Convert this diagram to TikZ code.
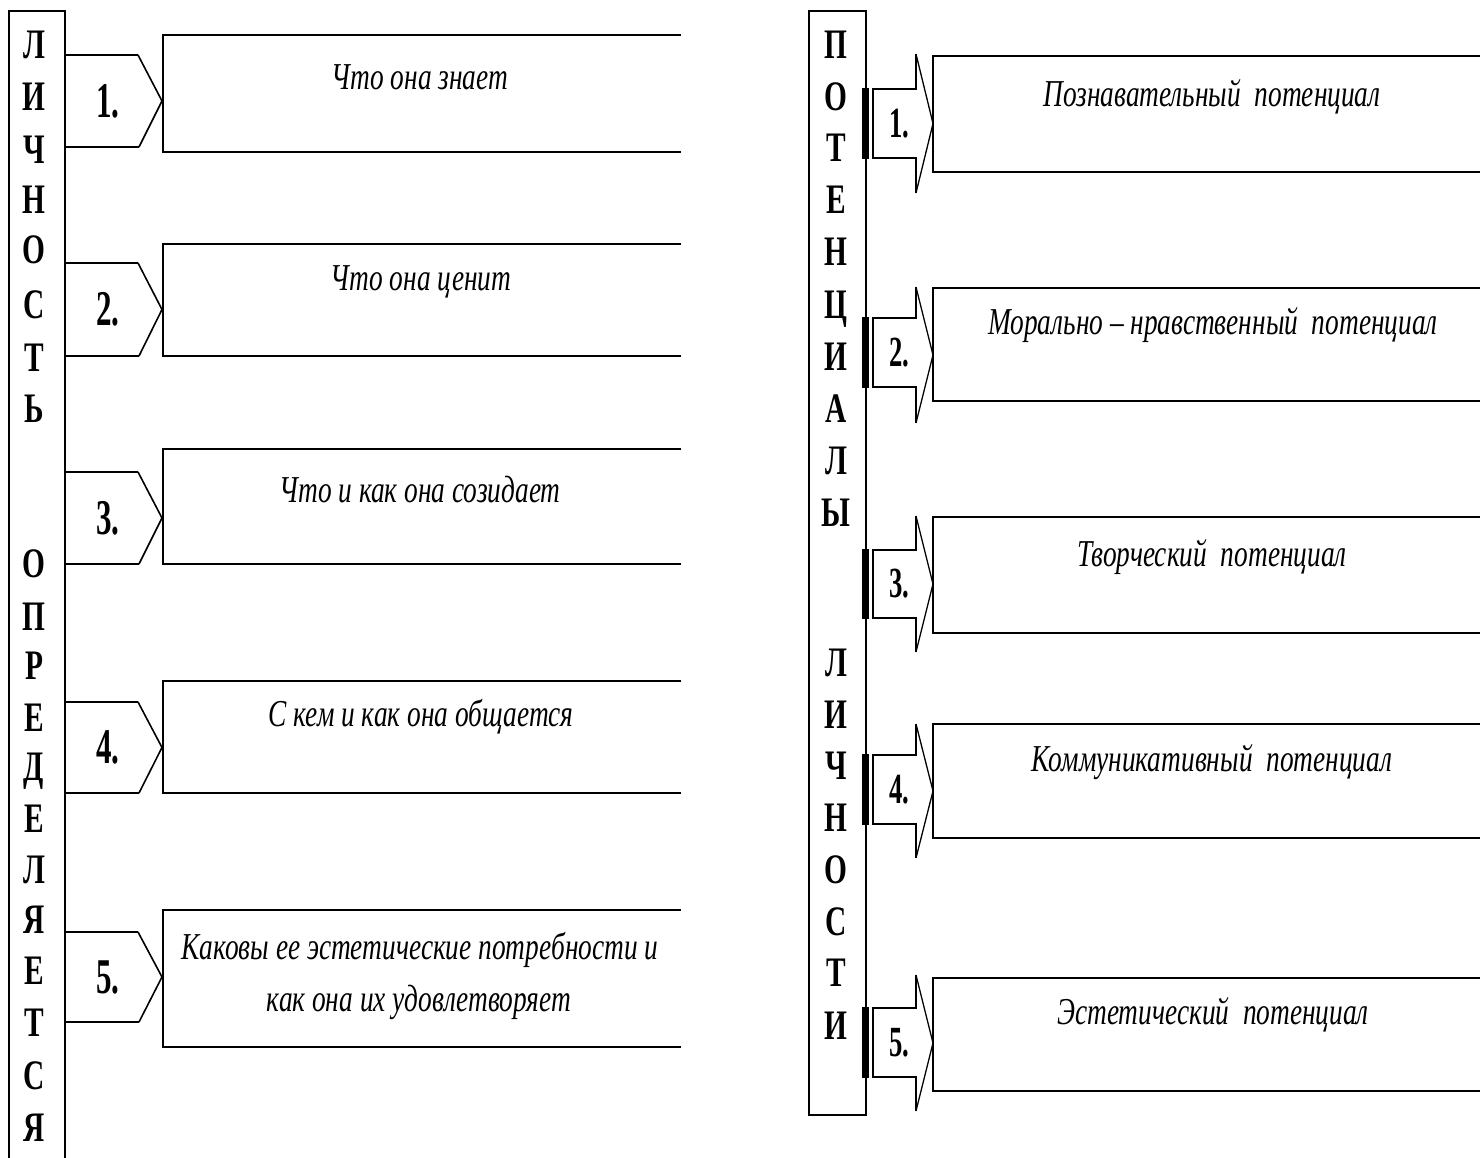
\documentclass[tikz,border=0pt]{standalone}
\usepackage{fontspec}
\setmainfont{Liberation Serif}
\newcommand\hsq[2]{\scalebox{#1}[1]{#2}}
\begin{document}
\begin{tikzpicture}[x=1pt,y=-1pt,
  ln/.style={line width=2.6pt},
  thin ln/.style={line width=1.6pt},
  dashln/.style={line width=1.3pt},
  vletter/.style={font=\fontsize{42}{42}\selectfont\bfseries, anchor=base, inner sep=0pt},
  numl/.style={font=\fontsize{50}{50}\selectfont\bfseries, inner sep=0pt},
  numr/.style={font=\fontsize{43}{43}\selectfont\bfseries, inner sep=0pt},
  itxt/.style={font=\fontsize{38}{38}\selectfont\itshape, inner sep=0pt, align=center}
]
\fill[white] (0,0) rectangle (1480,1158);
\useasboundingbox (0,0) rectangle (1480,1158);

% ---------- left vertical bar ----------
\draw[ln] (9,1170) -- (9,11) -- (65,11) -- (65,1170);
\foreach \ch/\yy [count=\i] in {Л/45,И/97,Ч/150,Н/200,О/250,С/305,Т/357,Ь/408,
   О/563,П/616,Р/665,Е/717,Д/766,Е/818,Л/869,Я/919,Е/970,Т/1022,С/1075,Я/1127}
  \node[vletter] (lv\i) at (34,\yy+14) {\hsq{0.7}{\ch}};

% ---------- left rows: box top, box bottom, arrow top, arrow bottom ----------
\foreach \lbt/\lbb/\lat/\lab/\n [count=\i] in {35/152/55/147/1,244/356/263/356/2,449/564/472/564/3,681/793/702/793/4,910/1047/932/1022/5}{
  \pgfmathsetmacro\ltip{(\lat+\lab)/2}
  \draw[ln] (65,\lat) -- (138,\lat);
  \draw[ln] (65,\lab) -- (139,\lab);
  \draw[thin ln] (138,\lat) -- (162,\ltip) -- (139,\lab);
  \draw[ln] (681,\lbt) -- (163,\lbt) -- (163,\lbb) -- (681,\lbb);
  \node[numl] (ln\i) at (108,\ltip) {\hsq{0.62}{\n.}};
}

\node[itxt] (lt1) at (420,77) {\hsq{0.72}{Что она знает}};
\node[itxt] (lt2) at (421,282) {\hsq{0.72}{Что она ценит}};
\node[itxt] (lt3) at (420,490) {\hsq{0.72}{Что и как она созидает}};
\node[itxt] (lt4) at (421,717) {\hsq{0.72}{С кем и как она общается}};
\node[itxt] (lt5) at (420,950) {\hsq{0.72}{Каковы ее эстетические потребности и}};
\node[itxt] (lt6) at (419,1002) {\hsq{0.72}{как она их удовлетворяет}};

% ---------- right vertical bar ----------
\draw[ln] (809,11) rectangle (866,1115);
\foreach \ch/\yy [count=\i] in {П/45,О/97,Т/148,Е/200,Н/252,Ц/304,И/356,А/408,Л/460,Ы/512,
   Л/662,И/714,Ч/765,Н/817,О/869,С/921,Т/972,И/1025}
  \node[vletter] (rv\i) at (836,\yy+14) {\hsq{0.7}{\ch}};

% ---------- right rows: box top, box bottom, body top, body bottom, head top, head bottom ----------
\foreach \rbt/\rbb/\rct/\rcb/\rht/\rhb/\n [count=\i] in {56/172/89/158/54/193/1,288/401/318/387/287/423/2,517/633/550/618/516/652/3,724/838/755/824/724/858/4,978/1091/1008/1077/975/1111/5}{
  \pgfmathsetmacro\rtip{(\rht+\rhb)/2}
  \pgfmathsetmacro\rmid{(\rct+\rcb)/2}
  \fill (862,\rct-1) rectangle (869,\rcb+1);
  \draw[line width=2pt] (872.5,\rct) -- (872.5,\rcb);
  \draw[ln] (872,\rct) -- (916,\rct) -- (916,\rht);
  \draw[ln] (872,\rcb) -- (916,\rcb) -- (916,\rhb);
  \draw[dashln] (916,\rht) -- (933,\rtip) -- (916,\rhb);
  \draw[ln] (1490,\rbt) -- (933,\rbt) -- (933,\rbb) -- (1490,\rbb);
  \node[numr] (rn\i) at (899,\rmid) {\hsq{0.62}{\n.}};
}

\node[itxt] (rt1) at (1212,97) {\hsq{0.72}{Познавательный\ \ потенциал}};
\node[itxt] (rt2) at (1213,325) {\hsq{0.72}{Морально – нравственный\ \ потенциал}};
\node[itxt] (rt3) at (1212,557) {\hsq{0.72}{Творческий\ \ потенциал}};
\node[itxt] (rt4) at (1212,762) {\hsq{0.72}{Коммуникативный\ \ потенциал}};
\node[itxt] (rt5) at (1213,1015) {\hsq{0.72}{Эстетический\ \ потенциал}};
\end{tikzpicture}
\end{document}
